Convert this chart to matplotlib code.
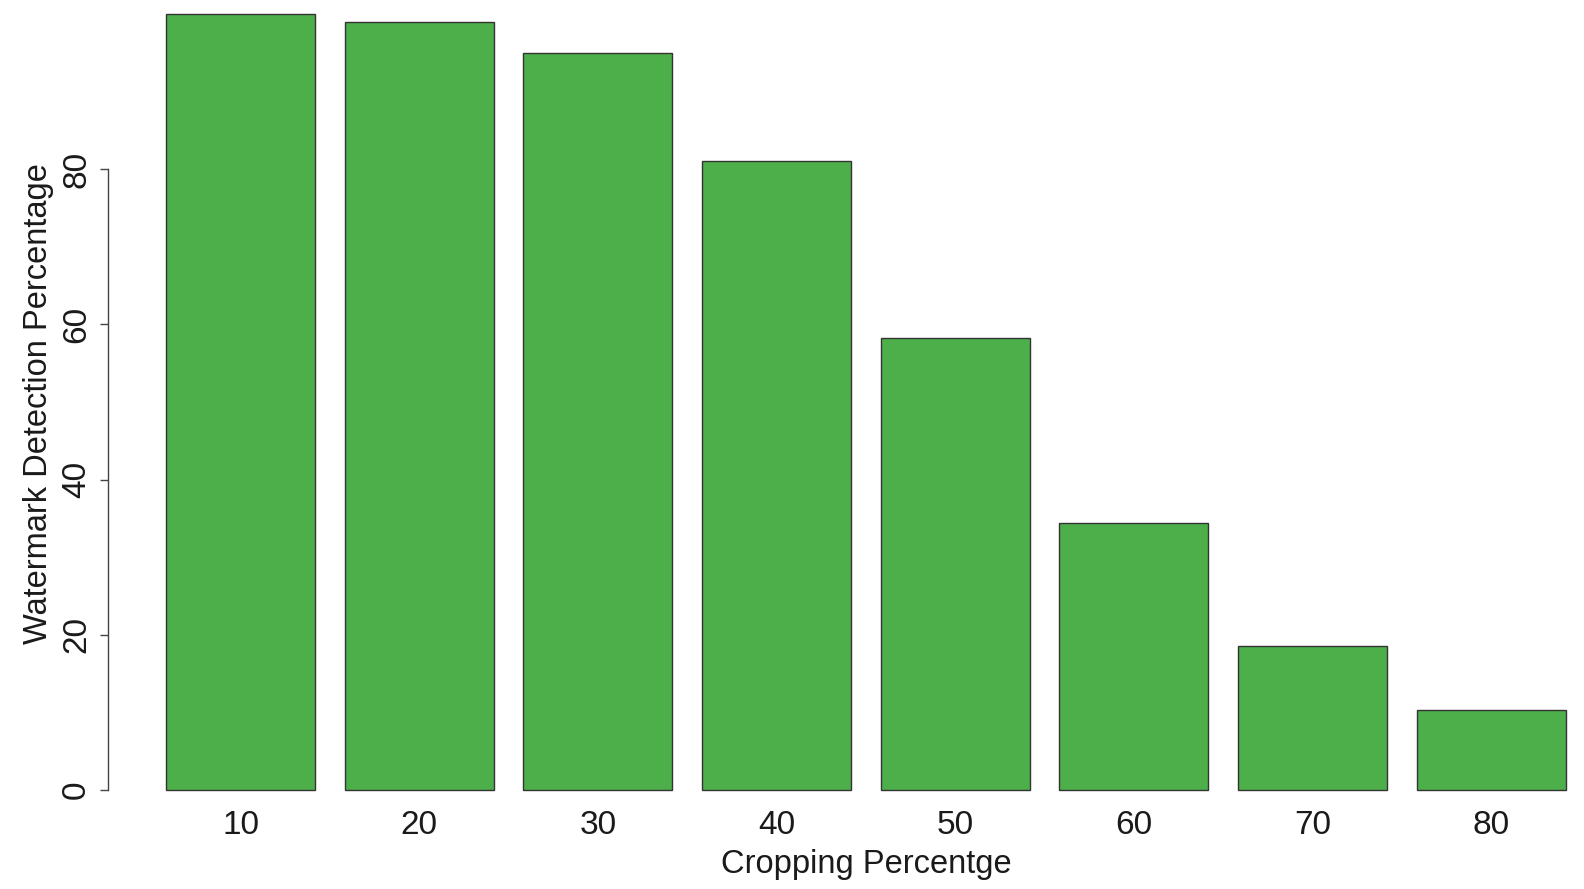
import numpy as np
import matplotlib
matplotlib.use("Agg")
import matplotlib.pyplot as plt

plt.rcParams['font.family'] = ['Liberation Sans', 'DejaVu Sans']

# cropping percentage vs detection rate
crop_pct = ["10", "20", "30", "40", "50", "60", "70", "80"]
detect_pct = [100, 99, 95, 81.1, 58.3, 34.4, 18.5, 10.3]

W, H = 1584, 889
fig = plt.figure(figsize=(W / 100, H / 100), dpi=100)

# plot region, R-barplot style (space=0.2, width=1)
ax = fig.add_axes([108 / W, 68 / H, 1 - 108 / W, 1 - 68 / H])
pos = 0.7 + 1.2 * np.arange(len(crop_pct))
ax.bar(pos, detect_pct, width=1.0, color="#4DAF4A", edgecolor="#333333", linewidth=1.0)

ax.set_xlim(-0.19, -0.19 + (W - 108) / 148.9)
ax.set_ylim(-4, 790 / 7.76)

for s in ["top", "right", "bottom"]:
    ax.spines[s].set_visible(False)
ax.spines["left"].set_bounds(0, 80)
ax.spines["left"].set_color("#444444")
ax.spines["left"].set_linewidth(1.0)

ax.set_yticks([0, 20, 40, 60, 80])
ax.set_yticklabels(["0", "20", "40", "60", "80"], rotation=90, va="center", fontsize=24, color="#1a1a1a")
ax.tick_params(axis="y", length=6, width=1.0, color="#444444", pad=5.5)

ax.set_xticks(pos)
ax.set_xticklabels(crop_pct, fontsize=24, color="#1a1a1a")
ax.tick_params(axis="x", length=0, pad=-8)

fig.text(866 / W, 1 - 864 / H, "Cropping Percentge", ha="center", va="center", fontsize=23.5, color="#1a1a1a")
fig.text(39 / W, 1 - 404 / H, "Watermark Detection Percentage", ha="center", va="center",
         rotation=90, fontsize=23.5, color="#1a1a1a")

fig.savefig("out.png", dpi=100)
